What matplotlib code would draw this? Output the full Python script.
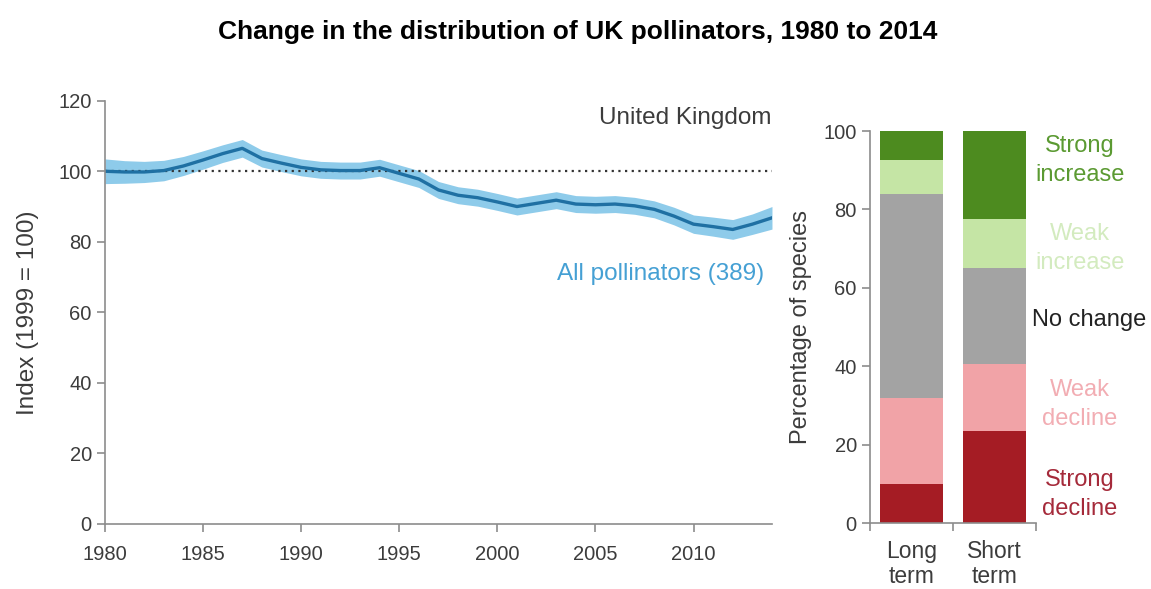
import numpy as np
import matplotlib
matplotlib.use("Agg")
import matplotlib.pyplot as plt

plt.rcParams["font.family"] = ["Liberation Sans", "DejaVu Sans"]

# index of all pollinators (1999 = 100)
years = list(range(1980, 2015))
index = [100.0, 99.8, 99.8, 100.2, 101.5, 103.2, 105.0, 106.5, 103.6, 102.3,
         101.1, 100.4, 100.2, 100.2, 101.0, 99.4, 97.8, 94.7, 93.2, 92.5,
         91.3, 90.0, 90.9, 91.8, 90.7, 90.5, 90.7, 90.2, 89.2, 87.3,
         85.0, 84.3, 83.5, 85.0, 86.8]
lower = [96.5, 96.6, 96.8, 97.3, 98.8, 100.6, 102.5, 104.0, 101.2, 99.9,
         98.7, 98.0, 97.8, 97.8, 98.6, 97.0, 95.4, 92.3, 90.8, 90.1,
         88.9, 87.6, 88.5, 89.4, 88.3, 88.1, 88.3, 87.8, 86.8, 84.8,
         82.4, 81.6, 80.7, 82.1, 83.6]
upper = [103.5, 103.0, 102.8, 103.1, 104.2, 105.8, 107.5, 109.0, 106.0, 104.7,
         103.5, 102.8, 102.6, 102.6, 103.4, 101.8, 100.2, 97.1, 95.6, 94.9,
         93.7, 92.4, 93.3, 94.2, 93.1, 92.9, 93.1, 92.6, 91.6, 89.8,
         87.6, 87.0, 86.3, 87.9, 90.0]

# percentage of species in each trend category
periods = ["Long\nterm", "Short\nterm"]
categories = ["Strong decline", "Weak decline", "No change",
              "Weak increase", "Strong increase"]
shares = {
    "Strong decline": [10.0, 23.5],
    "Weak decline": [22.0, 17.0],
    "No change": [52.0, 24.5],
    "Weak increase": [8.5, 12.5],
    "Strong increase": [7.5, 22.5],
}
bar_colors = ["#a51c24", "#f1a3a7", "#a3a3a3", "#c5e5a5", "#4d8b1f"]
label_colors = ["#a52a3a", "#f2adb3", "#222222", "#d3ebbf", "#5b9a32"]
label_text = ["Strong\ndecline", "Weak\ndecline", "No change",
              "Weak\nincrease", "Strong\nincrease"]
label_pos = [(2.03, 7.3), (2.03, 30.3), (2.14, 51.8), (2.03, 70.0),
             (2.03, 92.4)]

axis_grey = "#8c8c8c"
text_grey = "#3c3c3c"

fig = plt.figure(figsize=(11.51, 5.89), dpi=100)
fig.text(0.5015, 0.945, "Change in the distribution of UK pollinators, 1980 to 2014",
         ha="center", va="center", fontsize=19, fontweight="bold")

# line chart
ax = fig.add_axes([0.0912, 0.1104, 0.5795, 0.7186])
ax.fill_between(years, lower, upper, color="#8ecbea", lw=0)
ax.axhline(100, color="#333333", ls=(0, (1, 2)), lw=1.6)
ax.plot(years, index, color="#1f70a3", lw=2.4)
ax.set_xlim(1980, 2014)
ax.set_ylim(0, 120)
ax.set_xticks(range(1980, 2015, 5))
ax.set_yticks(range(0, 121, 20))
ax.set_ylabel("Index (1999 = 100)", fontsize=17.5, color=text_grey,
              labelpad=14)
ax.text(2014, 115, "United Kingdom", ha="right", va="center",
        fontsize=17.5, color=text_grey)
ax.text(2013.6, 71, "All pollinators (389)", ha="right", va="center",
        fontsize=17.5, color="#45a0d4")

# stacked bars
bx = fig.add_axes([0.7559, 0.112, 0.1442, 0.6655])
x = np.arange(len(periods))
bottom = np.zeros(len(periods))
for cat, col in zip(categories, bar_colors):
    vals = np.array(shares[cat])
    bx.bar(x, vals, width=0.75, bottom=bottom, color=col, lw=0)
    bottom += vals
for txt, col, (tx, ty) in zip(label_text, label_colors, label_pos):
    bx.text(tx, ty, txt, ha="center", va="center", fontsize=17,
            color=col, clip_on=False, linespacing=1.4)
bx.set_xlim(-0.5, 1.5)
bx.set_ylim(0, 100)
bx.set_yticks(range(0, 101, 20))
bx.set_xticks([-0.5, 0.5, 1.5])
bx.set_xticklabels([])
bx.set_xticks(x, minor=True)
bx.set_xticklabels(periods, minor=True, fontsize=16.5, linespacing=1.15)
bx.tick_params(axis="x", which="minor", length=0, pad=12, colors=text_grey)
bx.set_ylabel("Percentage of species", fontsize=17, color=text_grey,
              labelpad=8)

for a in (ax, bx):
    for side in ("top", "right"):
        a.spines[side].set_visible(False)
    for side in ("left", "bottom"):
        a.spines[side].set_color(axis_grey)
        a.spines[side].set_linewidth(1.2)
    a.tick_params(which="major", length=6, width=1.2, color=axis_grey,
                  labelsize=14.5, labelcolor=text_grey)
ax.tick_params(axis="x", pad=9)

fig.savefig("out.png", dpi=100)
